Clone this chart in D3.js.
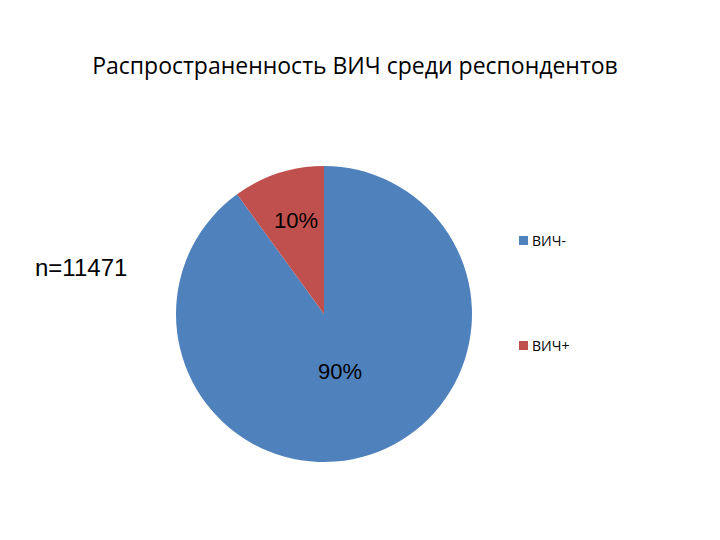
<!DOCTYPE html>
<html><head><meta charset="utf-8">
<script src="https://cdn.jsdelivr.net/npm/d3@7"></script>
<style>body{margin:0;background:#fff}</style>
</head><body>
<svg id="chart" width="720" height="540"></svg>
<script>
// chart data
const categories = ['ВИЧ-', 'ВИЧ+'];
const shares = [90, 10];
const sliceLabels = ['90%', '10%'];
const colors = ['#4f81bd', '#c0504d'];

const svg = d3.select('#chart');

svg.append('text').attr('x', 355).attr('y', 74).attr('text-anchor', 'middle')
    .style('font-family', 'Open Sans').style('font-size', '23px')
    .text('Распространенность ВИЧ среди респондентов');

svg.append('text').attr('x', 35).attr('y', 276)
    .style('font-family', 'Liberation Sans').style('font-size', '24px')
    .text('n=11471');

const cx = 324, cy = 314, r = 148;
const pie = d3.pie().sort(null)(shares);
const arc = d3.arc().innerRadius(0).outerRadius(r);
const g = svg.append('g').attr('transform', `translate(${cx},${cy})`);
g.selectAll('path').data(pie).join('path')
    .attr('d', arc).attr('fill', (d, i) => colors[i]);

// label positions inside slices
const labelPos = [[16, 65], [-28, -86]];
g.selectAll('text.lbl').data(pie).join('text')
    .attr('x', (d, i) => labelPos[i][0]).attr('y', (d, i) => labelPos[i][1])
    .attr('text-anchor', 'middle')
    .style('font-family', 'Liberation Sans').style('font-size', '22px')
    .text((d, i) => sliceLabels[i]);

const leg = svg.append('g');
categories.forEach((c, i) => {
    const y = 241 + i * 105;
    leg.append('rect').attr('x', 519).attr('y', y - 5).attr('width', 9).attr('height', 9).attr('fill', colors[i]);
    leg.append('text').attr('x', 532).attr('y', y + 5)
        .style('font-family', 'Open Sans').style('font-size', '14px').text(c);
});
</script>
</body></html>
